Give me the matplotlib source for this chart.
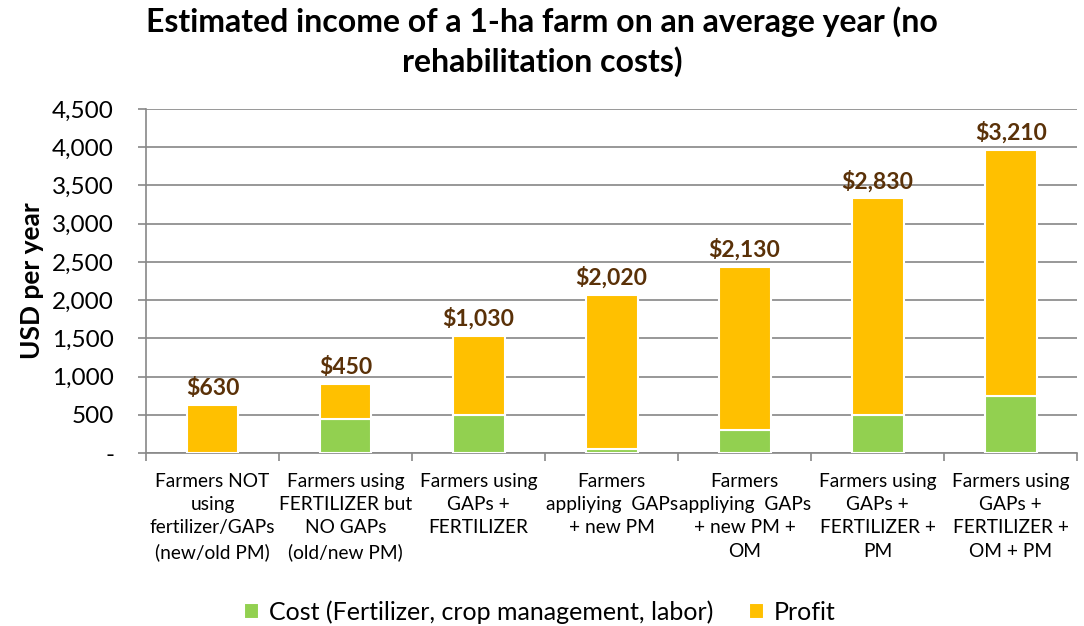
import matplotlib
matplotlib.use("Agg")
import matplotlib.pyplot as plt
from matplotlib.ticker import FuncFormatter
import numpy as np

categories = [
    "Farmers NOT\nusing\nfertilizer/GAPs\n(new/old PM)",
    "Farmers using\nFERTILIZER but\nNO GAPs\n(old/new PM)",
    "Farmers using\nGAPs +\nFERTILIZER",
    "Farmers\nappliying  GAPs\n+ new PM",
    "Farmers\nappliying  GAPs\n+ new PM +\nOM",
    "Farmers using\nGAPs +\nFERTILIZER +\nPM",
    "Farmers using\nGAPs +\nFERTILIZER +\nOM + PM",
]
cost = [0, 450, 500, 50, 300, 500, 750]
profit = [630, 450, 1030, 2020, 2130, 2830, 3210]

GREEN = "#92d050"
YELLOW = "#ffc000"
LABEL_BROWN = "#5a3108"
AXIS_GREY = "#888888"

plt.rcParams["font.family"] = ["Lato", "DejaVu Sans"]

fig = plt.figure(figsize=(10.84, 6.26), dpi=100)
ax = fig.add_axes([0.1347, 0.276, 0.859, 0.55])

x = np.arange(len(categories))
cost = np.array(cost)
profit = np.array(profit)
w = 0.39
ax.bar(x, cost, w, color=GREEN, edgecolor="white", linewidth=1.5,
       label="Cost (Fertilizer, crop management, labor)", zorder=3)
ax.bar(x, profit, w, bottom=cost, color=YELLOW, edgecolor="white", linewidth=1.5,
       label="Profit", zorder=3)

# profit value above each stacked bar
for xi, c, p in zip(x, cost, profit):
    ax.text(xi, c + p + 80, f"${p:,.0f}", ha="center", va="bottom",
            fontsize=16.5, fontweight="bold", color=LABEL_BROWN)

ax.set_xlim(-0.5, len(categories) - 0.5)
ax.set_ylim(0, 4500)
ax.set_yticks(np.arange(0, 4501, 500))
ax.yaxis.set_major_formatter(FuncFormatter(lambda v, _: "-" if v == 0 else f"{v:,.0f}"))
ax.tick_params(axis="y", labelsize=17.5, length=6, width=1.2, color=AXIS_GREY, pad=17)
ax.grid(axis="y", color="#868686", linewidth=1.2, zorder=0)

ax.set_xticks(x)
ax.set_xticklabels(categories, fontsize=13.8, linespacing=1.45)
ax.tick_params(axis="x", length=0, pad=14)
ax.set_xticks(np.arange(-0.5, len(categories)), minor=True)
ax.tick_params(axis="x", which="minor", length=6, width=1.2, color=AXIS_GREY)

for s in ["top", "right"]:
    ax.spines[s].set_visible(False)
for s in ["left", "bottom"]:
    ax.spines[s].set_color(AXIS_GREY)
    ax.spines[s].set_linewidth(1.2)

ax.set_ylabel("USD per year", fontsize=19, fontweight="bold", labelpad=6)

fig.suptitle("Estimated income of a 1-ha farm on an average year (no\nrehabilitation costs)",
             x=0.5, y=0.99, fontsize=23, fontweight="bold", linespacing=1.35)

fig.legend(loc="lower center", bbox_to_anchor=(0.498, -0.032), ncol=2, frameon=False,
           fontsize=18, handlelength=0.6, handleheight=0.6, columnspacing=1.4,
           handletextpad=0.4)

fig.savefig("out.png", dpi=100)
